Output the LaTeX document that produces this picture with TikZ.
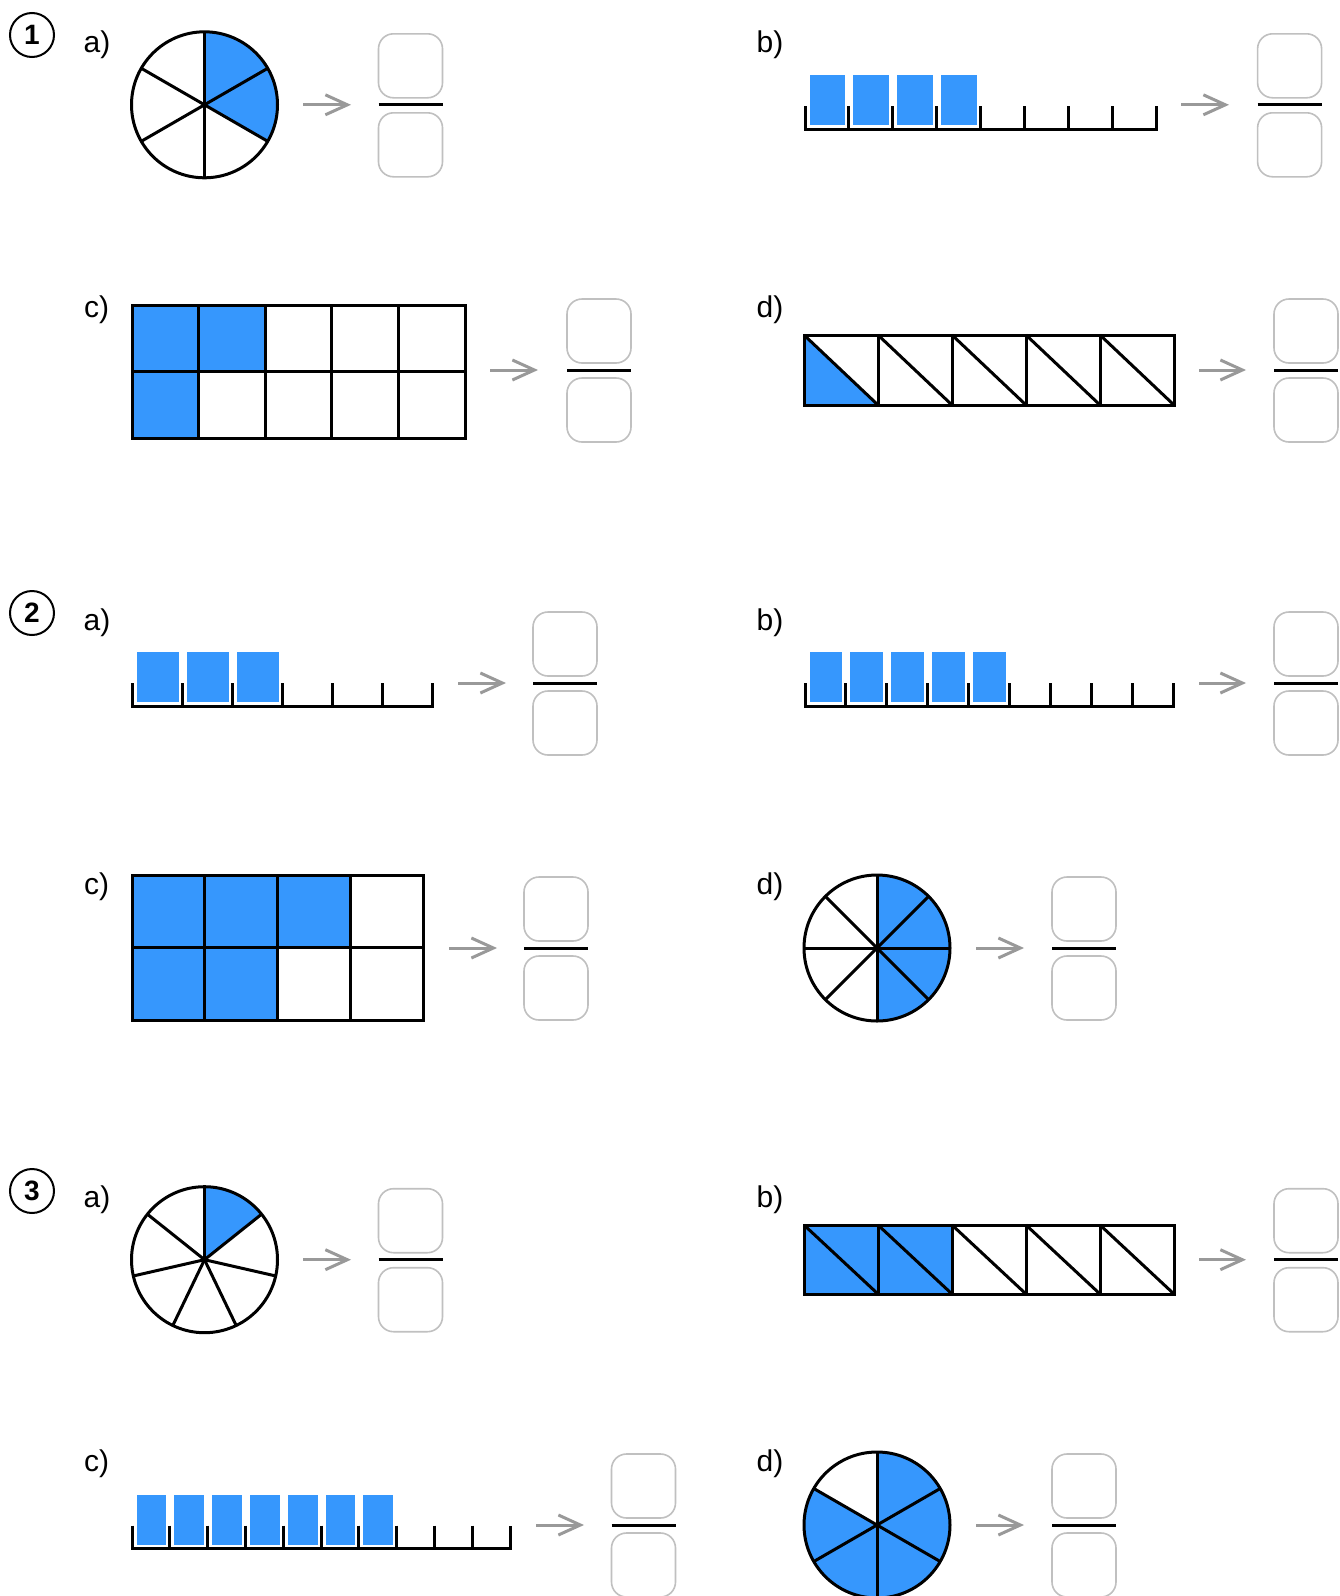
\documentclass[tikz,border=0pt]{standalone}
\usepackage{fontspec}
\setmainfont{Liberation Sans}
\usetikzlibrary{arrows.meta}
\definecolor{blu}{RGB}{54,151,253}
\definecolor{arrgray}{RGB}{153,153,153}
\definecolor{boxgray}{RGB}{192,192,192}
\tikzset{
  shapeline/.style={draw=black, line width=1.5pt},
  fbox/.style={draw=boxgray, line width=0.8pt, rounded corners=7.5pt, minimum width=32pt, minimum height=32pt, inner sep=0pt},
  fbar/.style={draw=black, line width=1.5pt},
  goarrow/.style={draw=arrgray, line width=1.5pt, -{Straight Barb[length=11pt,width=10pt]}},
  lbl/.style={anchor=base, inner sep=0pt, font=\fontsize{15pt}{17pt}\selectfont},
  numc/.style={circle, draw=black, line width=1pt, minimum size=22pt, inner sep=0pt, font=\bfseries\fontsize{14pt}{16pt}\selectfont},
}
% pie: name, x, y, n sectors, k shaded (clockwise from 12 o'clock)
\newcommand\PieChart[5]{%
  \coordinate (#1) at (#2,#3);
  \foreach \i in {1,...,#5} {\fill[blu] (#1) -- ++({90-(\i-1)*360/#4}:36.5pt) arc[start angle={90-(\i-1)*360/#4}, delta angle={-360/#4}, radius=36.5pt] -- cycle;}
  \foreach \i in {1,...,#4} {\draw[shapeline] (#1) -- ++({90-(\i-1)*360/#4}:36.5pt);}
  \draw[shapeline] (#1) circle[radius=36.5pt];
}
% number line: x0, ybase, n intervals, interval length, k shaded
\newcommand\NumLine[5]{%
  \foreach \i in {1,...,#5} {\fill[blu] ({#1+(\i-1)*#4+4.5},{#2-54}) rectangle ({#1+\i*#4-3.5},{#2-4});}
  \draw[shapeline] (#1,{#2-23}) -- (#1,#2) -- ({#1+#3*#4},#2) -- ({#1+#3*#4},{#2-23});
  \pgfmathtruncatemacro\nlm{#3-1}
  \foreach \i in {1,...,\nlm} {\draw[shapeline] ({#1+\i*#4},{#2-23}) -- ({#1+\i*#4},#2);}
}
% fraction: name, x left, y bar
\newcommand\FracBox[3]{%
  \node[fbox] (#1t) at ({#2+32},{#3-39}) {};
  \node[fbox] (#1b) at ({#2+32},{#3+40}) {};
  \coordinate (#1l) at (#2,#3);
  \coordinate (#1r) at ({#2+64},#3);
  \draw[fbar] (#1l) -- (#1r);
}
% arrow: name, x1, x2, y
\newcommand\GoArrow[4]{%
  \coordinate (#1s) at (#2,#4);
  \coordinate (#1e) at (#3,#4);
  \draw[goarrow] (#1s) -- (#1e);
}
\begin{document}
\begin{tikzpicture}[x=0.5pt,y=-0.5pt]
\path[use as bounding box] (0,0) rectangle (1339,1596);
\clip (0,0) rectangle (1339,1596);
\fill[white] (0,0) rectangle (1339,1596);

% ---------- Task 1 ----------
\node[numc] (n1) at (32,35) {1};
\node[lbl] (l1a) at (97,52.5) {a)};
\PieChart{p1a}{204.5}{104.8}{6}{2}
\GoArrow{a1a}{303}{351}{104.8}
\FracBox{f1a}{378.5}{104.8}

\node[lbl] (l1b) at (770,52.5) {b)};
\NumLine{805}{129}{8}{43.9}{4}
\GoArrow{a1b}{1181}{1229}{104.8}
\FracBox{f1b}{1257.6}{104.8}

\node[lbl] (l1c) at (96.7,317.5) {c)};
\fill[blu] (132,305) rectangle (265.2,371.6);
\fill[blu] (132,371.6) rectangle (198.6,438.2);
\foreach \c in {0,...,4} \foreach \r in {0,1}
  \draw[shapeline] ({132+\c*66.6},{305+\r*66.6}) rectangle ++(66.6,66.6);
\GoArrow{a1c}{490}{538}{370}
\FracBox{f1c}{567}{370}

\node[lbl] (l1d) at (770,317.5) {d)};
\fill[blu] (804,335) -- (804,405) -- (878,405) -- cycle;
\foreach \c in {0,...,4} {
  \draw[shapeline] ({804+\c*74},335) rectangle ++(74,70);
  \draw[shapeline] ({804+\c*74},335) -- ++(74,70);
}
\GoArrow{a1d}{1199}{1246}{370}
\FracBox{f1d}{1274}{370}

% ---------- Task 2 ----------
\node[numc] (n2) at (32,613) {2};
\node[lbl] (l2a) at (97,630) {a)};
\NumLine{132}{706}{6}{50.07}{3}
\GoArrow{a2a}{458}{506}{683}
\FracBox{f2a}{533}{683}

\node[lbl] (l2b) at (770,630) {b)};
\NumLine{805}{706}{9}{40.9}{5}
\GoArrow{a2b}{1199}{1246}{683}
\FracBox{f2b}{1274}{683}

\node[lbl] (l2c) at (96.7,894.5) {c)};
\fill[blu] (132,875) rectangle (350.4,947.8);
\fill[blu] (132,947.8) rectangle (277.6,1020.6);
\foreach \c in {0,...,3} \foreach \r in {0,1}
  \draw[shapeline] ({132+\c*72.8},{875+\r*72.8}) rectangle ++(72.8,72.8);
\GoArrow{a2c}{449}{497}{948}
\FracBox{f2c}{524}{948}

\node[lbl] (l2d) at (770,894.5) {d)};
\PieChart{p2d}{877}{948}{8}{4}
\GoArrow{a2d}{976}{1024}{948}
\FracBox{f2d}{1052}{948}

% ---------- Task 3 ----------
\node[numc] (n3) at (32,1191) {3};
\node[lbl] (l3a) at (97,1207) {a)};
\PieChart{p3a}{204.5}{1259.7}{7}{1}
\GoArrow{a3a}{303}{351}{1259.7}
\FracBox{f3a}{378.5}{1259.7}

\node[lbl] (l3b) at (770,1207) {b)};
\fill[blu] (804,1225) rectangle (952,1294);
\foreach \c in {0,...,4} {
  \draw[shapeline] ({804+\c*74},1225) rectangle ++(74,69);
  \draw[shapeline] ({804+\c*74},1225) -- ++(74,69);
}
\GoArrow{a3b}{1199}{1246}{1259.7}
\FracBox{f3b}{1274}{1259.7}

\node[lbl] (l3c) at (96.7,1471.5) {c)};
\NumLine{132}{1548.6}{10}{37.8}{7}
\GoArrow{a3c}{536}{584}{1525}
\FracBox{f3c}{611.5}{1525}

\node[lbl] (l3d) at (770,1471.5) {d)};
\PieChart{p3d}{877}{1525}{6}{5}
\GoArrow{a3d}{976}{1024}{1525}
\FracBox{f3d}{1052}{1525}
\end{tikzpicture}
\end{document}
